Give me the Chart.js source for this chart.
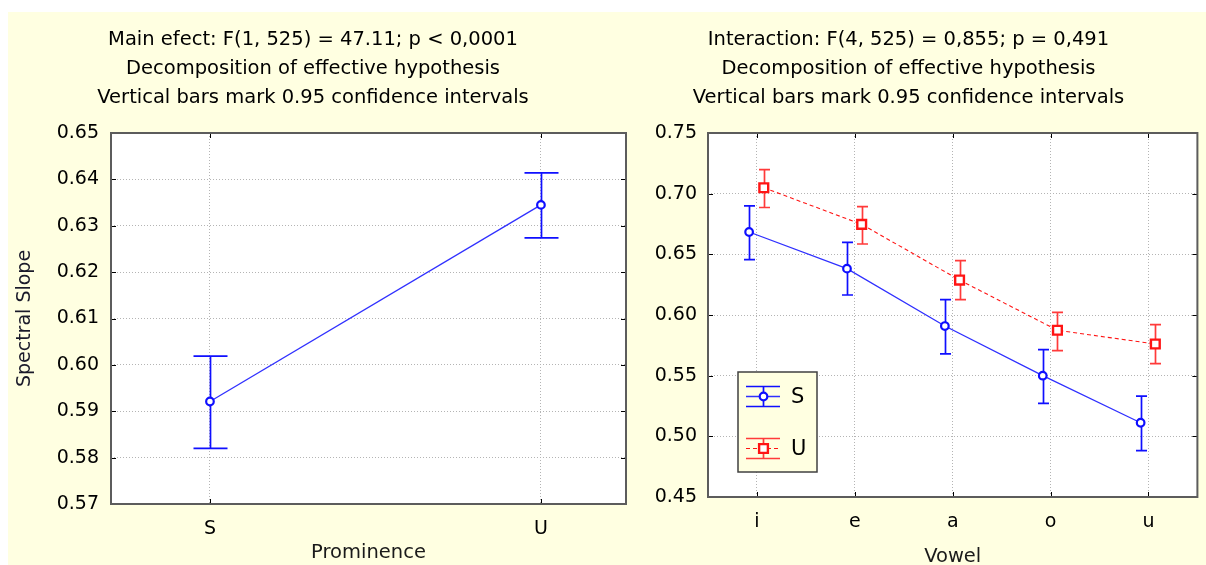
<!DOCTYPE html>
<html>
<head>
<meta charset="utf-8">
<script src="https://cdn.jsdelivr.net/npm/chart.js@4/dist/chart.umd.min.js"></script>
<style>
    html, body { margin: 0; padding: 0; background: #ffffff; }
    #page { position: relative; width: 1206px; height: 565px; overflow: hidden; }
    #bg { position: absolute; left: 8px; top: 12px; right: 0; bottom: 0; background: #ffffe1; }
    #chartLeft { position: absolute; left: 0; top: 0; }
    #chartRight { position: absolute; left: 617px; top: 0; }
</style>
</head>
<body>
<div id="page">
    <div id="bg"></div>
    <canvas id="chartLeft" width="664" height="565"></canvas>
    <canvas id="chartRight" width="589" height="565"></canvas>
</div>
<script>
// ****************************************************************** //
// Spectral slope: main effect of prominence, vowel x prominence     //
// ****************************************************************** //

// main effect (left panel)
const prominence = ["S", "U"];
const promMean = [0.5921, 0.6345];
const promLow = [0.582, 0.6274];
const promHigh = [0.6019, 0.6414];

// interaction (right panel)
const vowels = ["i", "e", "a", "o", "u"];
const sMean = [0.6684, 0.6382, 0.5909, 0.55, 0.5112];
const sLow = [0.6456, 0.6165, 0.5679, 0.5272, 0.4882];
const sHigh = [0.69, 0.6599, 0.6126, 0.5714, 0.5332];
const uMean = [0.7049, 0.6747, 0.6288, 0.5874, 0.5761];
const uLow = [0.6886, 0.6585, 0.6126, 0.5706, 0.5599];
const uHigh = [0.7198, 0.6893, 0.6448, 0.6022, 0.592];

const titleLeft = [
    "Main efect: F(1, 525) = 47.11; p < 0,0001",
    "Decomposition of effective hypothesis",
    "Vertical bars mark 0.95 confidence intervals",
];
const titleRight = [
    "Interaction: F(4, 525) = 0,855; p = 0,491",
    "Decomposition of effective hypothesis",
    "Vertical bars mark 0.95 confidence intervals",
];

const FONT = "'DejaVu Sans', Verdana, sans-serif";
const BLUE = "#0f0fff";
const RED = "#ff1414";
const DODGE_S = -0.08; // markers are pushed apart a little
const DODGE_U = 0.07;

// white plot area, inward ticks and frame
const frame = {
    id: "frame",
    beforeDraw(chart) {
        const { ctx, chartArea: a } = chart;
        ctx.save();
        ctx.fillStyle = "#ffffff";
        ctx.fillRect(a.left, a.top, a.width, a.height);
        ctx.restore();
    },
    afterDatasetsDraw(chart) {
        const { ctx, chartArea: a, scales } = chart;
        ctx.save();
        ctx.strokeStyle = "#000000";
        ctx.lineWidth = 1;
        ctx.beginPath();
        scales.x.ticks.forEach((t, i) => {
            const px = Math.round(scales.x.getPixelForTick(i)) + 0.5;
            ctx.moveTo(px, a.top); ctx.lineTo(px, a.top + 5);
            ctx.moveTo(px, a.bottom); ctx.lineTo(px, a.bottom - 5);
        });
        scales.y.ticks.forEach((t, i) => {
            const py = Math.round(scales.y.getPixelForTick(i)) + 0.5;
            ctx.moveTo(a.left, py); ctx.lineTo(a.left + 5, py);
            ctx.moveTo(a.right, py); ctx.lineTo(a.right - 5, py);
        });
        ctx.stroke();
        ctx.strokeStyle = "#5c5c5c";
        ctx.lineWidth = 2;
        ctx.strokeRect(a.left, a.top, a.width, a.height);
        ctx.restore();
    },
};

// vertical confidence bars, drawn under the markers
const errorBars = {
    id: "errorBars",
    beforeDatasetsDraw(chart, args, opts) {
        const { ctx, scales: { x, y } } = chart;
        chart.data.datasets.forEach((ds) => {
            if (!ds.errLow) return;
            ctx.save();
            ctx.strokeStyle = ds.errColor;
            ctx.lineWidth = 1.7;
            ctx.beginPath();
            ds.data.forEach((p, j) => {
                const px = Math.round(x.getPixelForValue(p.x)) + 0.5;
                const top = y.getPixelForValue(ds.errHigh[j]);
                const bot = y.getPixelForValue(ds.errLow[j]);
                ctx.moveTo(px, top); ctx.lineTo(px, bot);
                ctx.moveTo(px - opts.cap, top); ctx.lineTo(px + opts.cap, top);
                ctx.moveTo(px - opts.cap, bot); ctx.lineTo(px + opts.cap, bot);
            });
            ctx.stroke();
            ctx.restore();
        });
    },
};

// boxed legend inside the plot (right panel)
const boxLegend = {
    id: "boxLegend",
    afterDraw(chart, args, opts) {
        if (!opts.display) return;
        const { ctx, chartArea: a } = chart;
        const left = a.left + opts.left;
        const top = a.top + opts.top;
        ctx.save();
        ctx.fillStyle = "#ffffe1";
        ctx.fillRect(left, top, opts.width, opts.height);
        ctx.strokeStyle = "#404040";
        ctx.lineWidth = 1.5;
        ctx.strokeRect(left, top, opts.width, opts.height);
        chart.data.datasets.forEach((ds, i) => {
            const cy = Math.round(top + opts.rowStart + i * opts.rowGap) + 0.5;
            const x0 = left + 8, x1 = left + 42, xm = Math.round(left + 25) + 0.5;
            ctx.strokeStyle = ds.errColor;
            ctx.lineWidth = 1.7;
            ctx.setLineDash([]);
            ctx.beginPath();
            ctx.moveTo(x0, cy - 10); ctx.lineTo(x1, cy - 10);
            ctx.moveTo(x0, cy + 10); ctx.lineTo(x1, cy + 10);
            ctx.moveTo(xm, cy - 10); ctx.lineTo(xm, cy + 10);
            ctx.stroke();
            ctx.strokeStyle = ds.borderColor;
            ctx.lineWidth = ds.borderWidth;
            ctx.setLineDash(ds.borderDash || []);
            ctx.beginPath();
            ctx.moveTo(x0, cy); ctx.lineTo(x1, cy);
            ctx.stroke();
            ctx.setLineDash([]);
            ctx.fillStyle = "#ffffff";
            ctx.strokeStyle = ds.pointBorderColor;
            ctx.lineWidth = ds.pointBorderWidth;
            Chart.helpers.drawPoint(ctx, {
                pointStyle: ds.pointStyle,
                radius: ds.pointRadius,
                rotation: 0,
                borderWidth: ds.pointBorderWidth,
            }, xm, cy);
            ctx.fillStyle = "#000000";
            ctx.font = "21px " + FONT;
            ctx.textBaseline = "middle";
            ctx.fillText(ds.label, left + 53, cy + 1);
        });
        ctx.restore();
    },
};

Chart.register(frame, errorBars, boxLegend);

function titleOpts(lines) {
    return {
        display: true,
        text: lines,
        color: "#000000",
        font: { family: FONT, size: 19.5, weight: "normal", lineHeight: "29px" },
        padding: { top: 25.5, bottom: 20.5 },
    };
}

function gridOpts() {
    return { color: "#b4b4b4", lineWidth: 1, drawTicks: false };
}

const tickFont = { family: FONT, size: 19 };

// ---------------- left panel ----------------
const chartLeft = new Chart(document.getElementById("chartLeft"), {
    type: "line",
    data: {
        datasets: [
            {
                label: "Spectral Slope",
                data: promMean.map((v, i) => ({ x: i, y: v })),
                errLow: promLow,
                errHigh: promHigh,
                errColor: BLUE,
                borderColor: "#3030ff",
                borderWidth: 1.3,
                pointStyle: "circle",
                pointRadius: 3.8,
                pointBorderWidth: 2.2,
                pointBorderColor: BLUE,
                pointBackgroundColor: "#ffffff",
                tension: 0,
            },
        ],
    },
    options: {
        responsive: false,
        animation: false,
        layout: { padding: { left: 0, right: 38, top: 0, bottom: 0 } },
        plugins: {
            legend: { display: false },
            tooltip: { enabled: false },
            title: titleOpts(titleLeft),
            errorBars: { cap: 17 },
            boxLegend: { display: false },
        },
        scales: {
            x: {
                type: "linear",
                min: -0.299,
                max: 1.257,
                afterBuildTicks: (s) => { s.ticks = prominence.map((_, i) => ({ value: i })); },
                afterFit: (s) => { s.height = 61; },
                ticks: {
                    callback: (v) => prominence[v],
                    color: "#000000",
                    font: tickFont,
                    padding: 14,
                },
                grid: gridOpts(),
                border: { display: false, dash: [1, 2] },
                title: {
                    display: true,
                    text: "Prominence",
                    color: "#1a1a1a",
                    font: { family: FONT, size: 19.5 },
                    padding: { top: 0, bottom: 0 },
                },
            },
            y: {
                min: 0.57,
                max: 0.65,
                afterFit: (s) => { s.width = 111; },
                ticks: {
                    stepSize: 0.01,
                    callback: (v) => v.toFixed(2),
                    color: "#000000",
                    font: tickFont,
                    padding: 12,
                },
                grid: gridOpts(),
                border: { display: false, dash: [1, 2] },
                title: {
                    display: true,
                    text: "Spectral Slope",
                    color: "#1a1a2a",
                    font: { family: FONT, size: 19 },
                    padding: { top: 14, bottom: 0 },
                },
            },
        },
    },
});

// ---------------- right panel ----------------
const chartRight = new Chart(document.getElementById("chartRight"), {
    type: "line",
    data: {
        datasets: [
            {
                label: "S",
                data: sMean.map((v, i) => ({ x: i + DODGE_S, y: v })),
                errLow: sLow,
                errHigh: sHigh,
                errColor: BLUE,
                borderColor: "#3030ff",
                borderWidth: 1.3,
                pointStyle: "circle",
                pointRadius: 3.8,
                pointBorderWidth: 2.2,
                pointBorderColor: BLUE,
                pointBackgroundColor: "#ffffff",
                tension: 0,
            },
            {
                label: "U",
                data: uMean.map((v, i) => ({ x: i + DODGE_U, y: v })),
                errLow: uLow,
                errHigh: uHigh,
                errColor: "#ff3a3a",
                borderColor: RED,
                borderWidth: 1.1,
                borderDash: [4, 3],
                pointStyle: "rect",
                pointRadius: 6.2,
                pointBorderWidth: 2.4,
                pointBorderColor: RED,
                pointBackgroundColor: "#ffffff",
                tension: 0,
            },
        ],
    },
    options: {
        responsive: false,
        animation: false,
        layout: { padding: { left: 0, right: 6, top: 0, bottom: 0 } },
        plugins: {
            legend: { display: false },
            tooltip: { enabled: false },
            title: titleOpts(titleRight),
            errorBars: { cap: 5.5 },
            boxLegend: {
                display: true,
                left: 30,
                top: 239,
                width: 79,
                height: 100,
                rowStart: 24,
                rowGap: 52,
            },
        },
        scales: {
            x: {
                type: "linear",
                min: -0.5,
                max: 4.5,
                afterBuildTicks: (s) => { s.ticks = vowels.map((_, i) => ({ value: i })); },
                afterFit: (s) => { s.height = 68; },
                ticks: {
                    callback: (v) => vowels[v],
                    color: "#000000",
                    font: tickFont,
                    padding: 14,
                },
                grid: gridOpts(),
                border: { display: false, dash: [1, 2] },
                title: {
                    display: true,
                    text: "Vowel",
                    color: "#1a1a1a",
                    font: { family: FONT, size: 19.5 },
                    padding: { top: 0, bottom: -4 },
                },
            },
            y: {
                min: 0.45,
                max: 0.75,
                afterFit: (s) => { s.width = 91; },
                ticks: {
                    stepSize: 0.05,
                    callback: (v) => v.toFixed(2),
                    color: "#000000",
                    font: tickFont,
                    padding: 11,
                },
                grid: gridOpts(),
                border: { display: false, dash: [1, 2] },
            },
        },
    },
});
</script>
</body>
</html>
